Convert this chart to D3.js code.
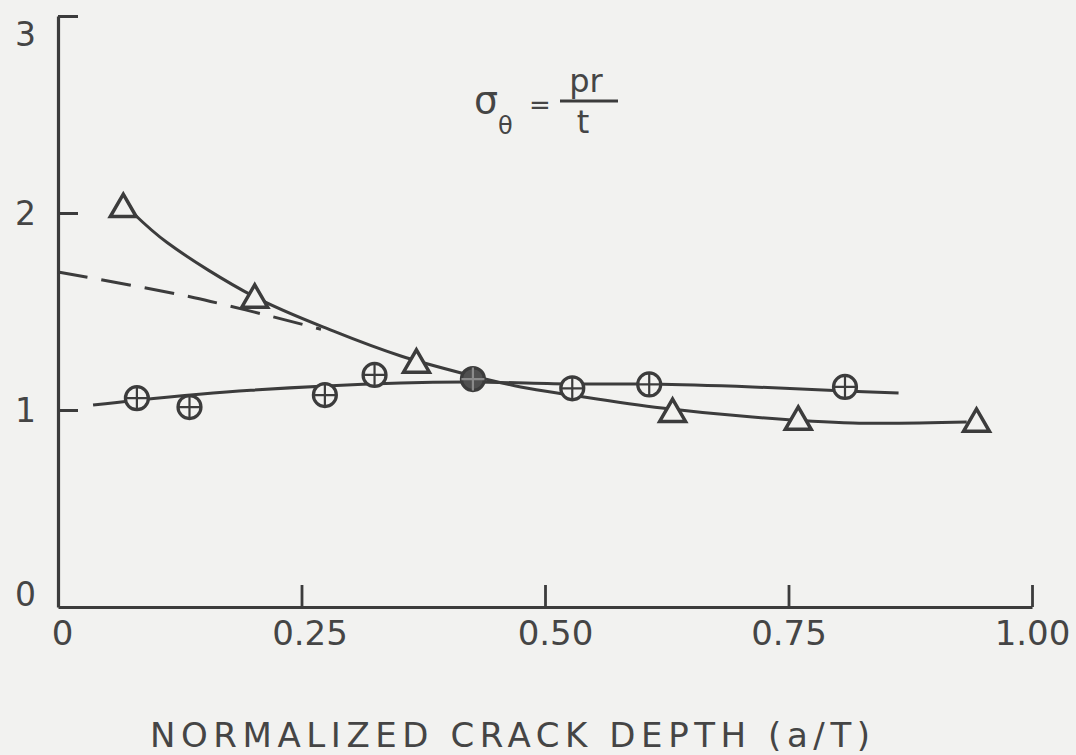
<!DOCTYPE html>
<html>
<head>
<meta charset="utf-8">
<script src="https://cdn.jsdelivr.net/npm/d3@7/dist/d3.min.js"></script>
<style>
  html, body { margin: 0; padding: 0; background: #f2f2f0; }
  svg { display: block; }
  text { font-family: "DejaVu Sans", "Liberation Sans", sans-serif; fill: #454545; }
</style>
</head>
<body>
<svg id="chart" width="1076" height="755"></svg>
<script>
// ---- data ----
const xTicks = [0, 0.25, 0.5, 0.75, 1.0];
const xTickLabels = ["0", "0.25", "0.50", "0.75", "1.00"];
const yTicks = [0, 1, 2, 3];
const yTickLabels = ["0", "1", "2", "3"];

// triangle data points
const triX = [0.067, 0.202, 0.368, 0.631, 0.760, 0.943];
const triY = [2.03, 1.57, 1.24, 0.99, 0.95, 0.94];

// circle-cross data points
const circX = [0.081, 0.135, 0.274, 0.325, 0.426, 0.528, 0.607, 0.808];
const circY = [1.06, 1.015, 1.076, 1.178, 1.157, 1.11, 1.13, 1.117];
const circFilled = [false, false, false, false, true, false, false, false];

// hand-drawn fitted curves
const triCurveX = [0.077, 0.112, 0.202, 0.283, 0.352, 0.414, 0.475, 0.527, 0.620, 0.713, 0.816, 0.933];
const triCurveY = [2.00, 1.85, 1.574, 1.40, 1.274, 1.188, 1.117, 1.076, 1.010, 0.964, 0.934, 0.939];

const circCurveX = [0.036, 0.081, 0.198, 0.352, 0.425, 0.528, 0.610, 0.713, 0.808, 0.863];
const circCurveY = [1.025, 1.05, 1.10, 1.137, 1.142, 1.132, 1.132, 1.117, 1.096, 1.086];

const dashCurveX = [0.0, 0.14, 0.27];
const dashCurveY = [1.70, 1.57, 1.41];

const xTitle = "NORMALIZED CRACK DEPTH (a/T)";

// ---- drawing ----
const svg = d3.select("#chart");
const ink = "#3c3c3c";

const x = d3.scaleLinear().domain([0, 1]).range([58, 1032]);
const y = d3.scaleLinear().domain([0, 3]).range([607, 16]);

// y axis (ticks pointing inward)
const yAxis = d3.axisLeft(y)
  .tickValues(yTicks)
  .tickFormat((d, i) => yTickLabels[i])
  .tickSizeInner(-20)
  .tickSizeOuter(0)
  .tickPadding(22);
const gy = svg.append("g").attr("transform", `translate(${x(0)},0)`).call(yAxis);
gy.select(".domain").attr("stroke", ink).attr("stroke-width", 3.2);
gy.selectAll(".tick line").attr("stroke", ink).attr("stroke-width", 3);
gy.selectAll(".tick text")
  .attr("font-size", 33)
  .attr("fill", "#454545")
  .style("font-family", "DejaVu Sans")
  .attr("dy", d => d === 3 ? "0.9em" : d === 0 ? "-0.05em" : "0.35em");
gy.selectAll(".tick").filter(d => d === 0).select("line").remove();

// x axis (ticks pointing upward)
const xAxis = d3.axisBottom(x)
  .tickValues(xTicks)
  .tickFormat((d, i) => xTickLabels[i])
  .tickSizeInner(-22)
  .tickSizeOuter(0)
  .tickPadding(14);
const gx = svg.append("g").attr("transform", `translate(0,${y(0)})`).call(xAxis);
gx.select(".domain").attr("stroke", ink).attr("stroke-width", 3.2);
gx.selectAll(".tick line").attr("stroke", ink).attr("stroke-width", 2.8);
gx.selectAll(".tick").filter(d => d === 0).select("line").remove();
gx.selectAll(".tick text")
  .attr("font-size", 34)
  .attr("fill", "#454545")
  .style("font-family", "DejaVu Sans")
  .attr("dx", d => d === 0.25 ? 8 : d === 0.5 ? 10 : d === 0 ? 4 : 0);

// x-axis title
svg.append("text")
  .attr("x", 150)
  .attr("y", 747)
  .attr("font-size", 34)
  .attr("textLength", 720)
  .attr("lengthAdjust", "spacing")
  .text(xTitle);

// curves
const line = d3.line().x(d => x(d[0])).y(d => y(d[1])).curve(d3.curveCatmullRom.alpha(0.5));
svg.append("path")
  .attr("d", line(d3.zip(triCurveX, triCurveY)))
  .attr("fill", "none").attr("stroke", ink).attr("stroke-width", 3);
svg.append("path")
  .attr("d", line(d3.zip(circCurveX, circCurveY)))
  .attr("fill", "none").attr("stroke", ink).attr("stroke-width", 3);
svg.append("path")
  .attr("d", line(d3.zip(dashCurveX, dashCurveY)))
  .attr("fill", "none").attr("stroke", ink).attr("stroke-width", 3)
  .attr("stroke-dasharray", "30,14");

// triangle markers
const tri = d3.symbol().type(d3.symbolTriangle).size(290);
svg.append("g").selectAll("path")
  .data(d3.zip(triX, triY))
  .join("path")
  .attr("d", tri)
  .attr("transform", d => `translate(${x(d[0])},${y(d[1]) + 2})`)
  .attr("fill", "#f2f2f0")
  .attr("stroke", ink)
  .attr("stroke-width", 3.5)
  .attr("stroke-linejoin", "miter");

// circle-cross markers
const r = 11.5;
const cg = svg.append("g").selectAll("g")
  .data(d3.zip(circX, circY, circFilled))
  .join("g")
  .attr("transform", d => `translate(${x(d[0])},${y(d[1])})`);
cg.append("circle")
  .attr("r", r)
  .attr("fill", d => d[2] ? "#505050" : "#f2f2f0")
  .attr("stroke", ink)
  .attr("stroke-width", 3.2);
cg.append("path")
  .attr("d", `M${-r},0H${r}M0,${-r}V${r}`)
  .attr("stroke", d => d[2] ? "#8a8a8a" : ink)
  .attr("stroke-width", 2.2);

// formula annotation  σθ = pr / t
const ann = svg.append("g");
ann.append("text").attr("x", 474).attr("y", 113).attr("font-size", 38).text("σ");
ann.append("text").attr("x", 498).attr("y", 134).attr("font-size", 24).text("θ");
ann.append("text").attr("x", 529).attr("y", 114).attr("font-size", 26).text("=");
ann.append("line").attr("x1", 560).attr("x2", 618).attr("y1", 101).attr("y2", 101)
  .attr("stroke", ink).attr("stroke-width", 2.8);
ann.append("text").attr("x", 586).attr("y", 92).attr("text-anchor", "middle").attr("font-size", 32).text("pr");
ann.append("text").attr("x", 583).attr("y", 133).attr("text-anchor", "middle").attr("font-size", 32).text("t");
</script>
</body>
</html>
